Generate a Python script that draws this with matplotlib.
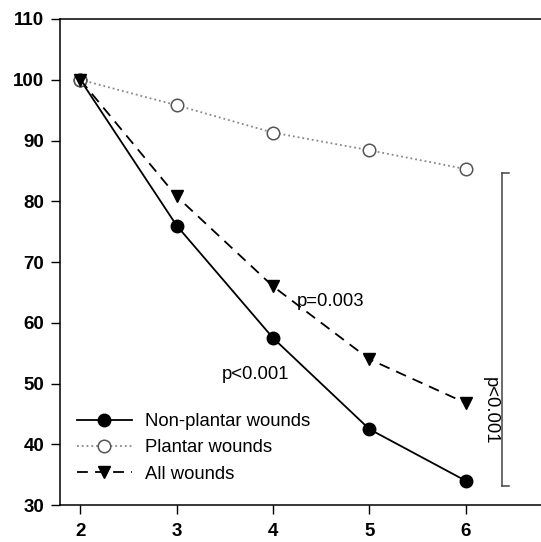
import matplotlib
matplotlib.use("Agg")
import matplotlib.pyplot as plt

plt.rcParams['font.family'] = ['Liberation Sans', 'DejaVu Sans']

weeks = [2, 3, 4, 5, 6]
non_plantar = [100, 76, 57.5, 42.5, 34]
plantar = [100, 95.8, 91.3, 88.4, 85.3]
all_wounds = [100, 80.8, 66, 54, 46.8]
yticks = [30, 40, 50, 60, 70, 80, 90, 100, 110]

fig = plt.figure(figsize=(5.41, 5.42), dpi=100)
ax = fig.add_axes([0.111, 0.068, 0.889, 0.897])

ax.plot(weeks, non_plantar, '-', color='black', lw=1.3, marker='o', ms=9,
        mfc='black', mec='black', label='Non-plantar wounds', zorder=3)
ax.plot(weeks, plantar, ':', color='#888888', lw=1.3, marker='o', ms=9,
        mfc='white', mec='#555555', mew=1.1, label='Plantar wounds', zorder=3)
ax.plot(weeks, all_wounds, '--', color='black', lw=1.3, marker='v', ms=9,
        mfc='black', mec='black', dashes=(6, 4), label='All wounds', zorder=3)

ax.set_xlim(1.79, 6.78)
ax.set_ylim(30, 110)
ax.set_xticks(weeks)
ax.set_yticks(yticks)
for lab in ax.get_xticklabels() + ax.get_yticklabels():
    lab.set_fontweight('bold')
ax.tick_params(axis='both', labelsize=13.5, direction='out', length=6.5, width=1)
ax.tick_params(axis='x', pad=6)
ax.tick_params(axis='y', pad=5)
ax.spines['right'].set_visible(False)
for s in ['left', 'top', 'bottom']:
    ax.spines[s].set_linewidth(1.1)

ax.text(4.25, 63.5, 'p=0.003', fontsize=13.3, ha='left', va='center')
ax.text(3.47, 51.5, 'p<0.001', fontsize=13.3, ha='left', va='center')

# bracket
bx = 6.38
ax.plot([bx, bx], [33.2, 84.6], color='#444444', lw=1.1)
ax.plot([bx, bx + 0.07], [84.6, 84.6], color='#444444', lw=1.1)
ax.plot([bx, bx + 0.07], [33.2, 33.2], color='#444444', lw=1.1)
ax.text(bx - 0.04, 45.5, 'p<0.001', fontsize=13.3, rotation=-90,
        ha='right', va='center')

ax.legend(loc='lower left', bbox_to_anchor=(0.0, 0.012), frameon=False,
          fontsize=13.3, handlelength=3.0, labelspacing=0.5, handletextpad=0.7)

fig.savefig('out.png', dpi=100)
